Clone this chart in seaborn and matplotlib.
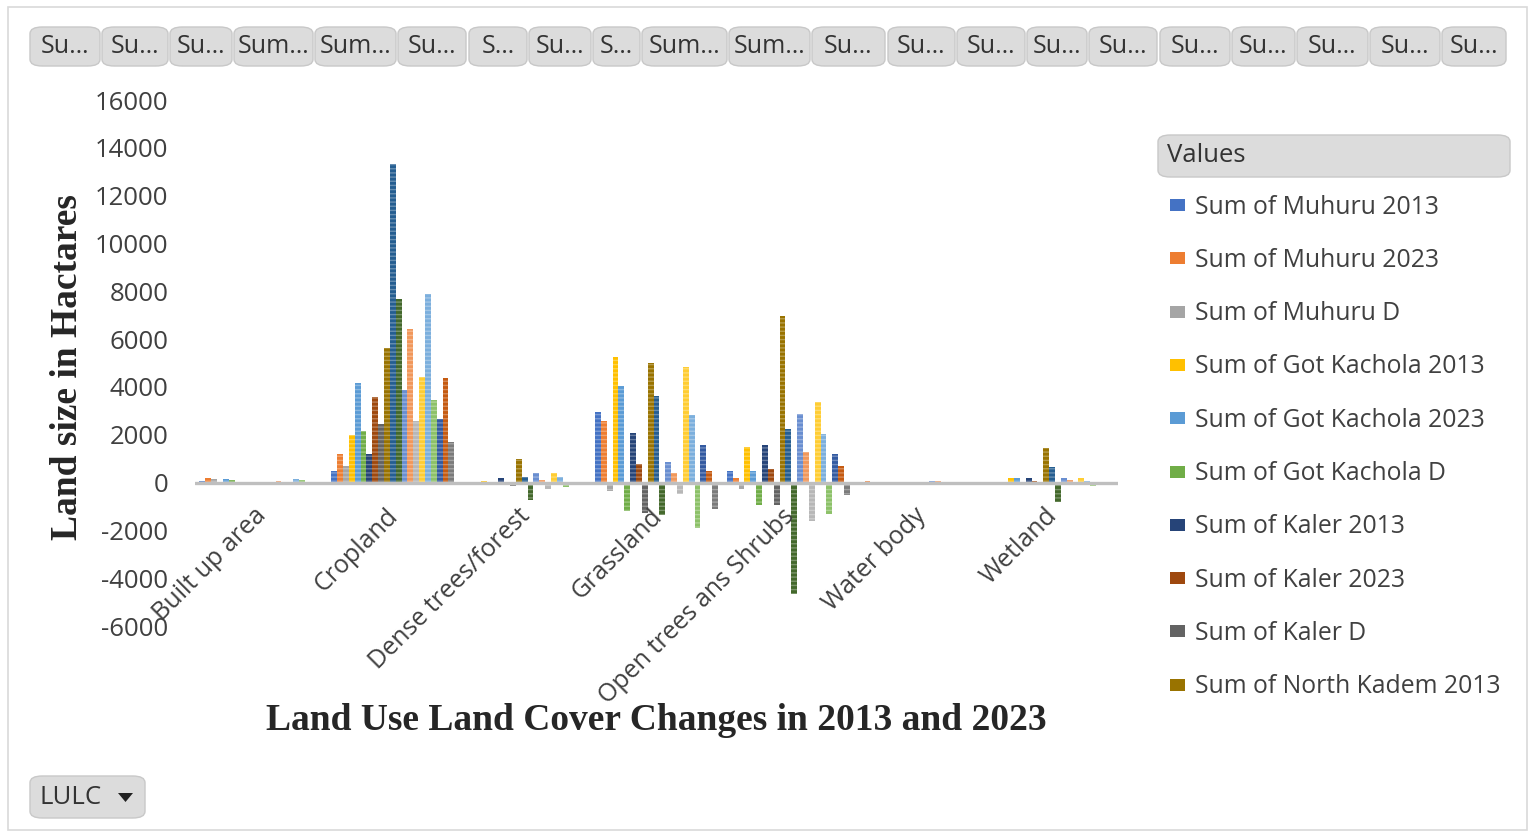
import numpy as np
import pandas as pd
import matplotlib
matplotlib.use("Agg")
import matplotlib.pyplot as plt
from matplotlib.patches import FancyBboxPatch, Rectangle, Polygon
from matplotlib.transforms import offset_copy
import seaborn as sns

# ---------------- data ----------------
categories = ["Built up area", "Cropland", "Dense trees/forest", "Grassland",
              "Open trees ans Shrubs", "Water body", "Wetland"]

muhuru_2013 = [60, 500, 20, 2950, 490, 40, 30]
muhuru_2023 = [200, 1200, 10, 2590, 210, 50, 40]
muhuru_d = [140, 700, -10, -360, -280, 10, 10]
got_kachola_2013 = [30, 2000, 60, 5250, 1480, 40, 170]
got_kachola_2023 = [150, 4160, 20, 4050, 500, 40, 200]
got_kachola_d = [120, 2160, -40, -1200, -950, 0, 30]
kaler_2013 = [20, 1200, 180, 2070, 1570, 30, 170]
kaler_2023 = [10, 3580, 30, 790, 580, 30, 60]
kaler_d = [-60, 2450, -150, -1290, -950, 0, -110]
north_kadem_2013 = [30, 5640, 980, 5020, 6950, 40, 1450]
north_kadem_2023 = [40, 13320, 230, 3630, 2250, 40, 650]
north_kadem_d = [10, 7680, -750, -1350, -4650, 0, -800]
kachieng_2013 = [40, 3880, 400, 880, 2870, 50, 200]
kachieng_2023 = [50, 6420, 110, 400, 1270, 50, 120]
kachieng_d = [10, 2560, -290, -480, -1600, 0, -80]
kanyasa_2013 = [30, 4430, 400, 4830, 3350, 40, 200]
kanyasa_2023 = [150, 7890, 230, 2840, 2050, 40, 60]
kanyasa_d = [120, 3460, -170, -1900, -1300, 0, -140]
macalder_2013 = [20, 2670, 20, 1570, 1200, 30, 30]
macalder_2023 = [20, 4360, 20, 470, 680, 30, 30]
macalder_d = [0, 1700, 0, -1100, -520, 0, 0]

series_names = [
    "Sum of Muhuru 2013", "Sum of Muhuru 2023", "Sum of Muhuru D",
    "Sum of Got Kachola 2013", "Sum of Got Kachola 2023", "Sum of Got Kachola D",
    "Sum of Kaler 2013", "Sum of Kaler 2023", "Sum of Kaler D",
    "Sum of North Kadem 2013", "Sum of North Kadem 2023", "Sum of North Kadem D",
    "Sum of Kachieng 2013", "Sum of Kachieng 2023", "Sum of Kachieng D",
    "Sum of Kanyasa 2013", "Sum of Kanyasa 2023", "Sum of Kanyasa D",
    "Sum of Macalder 2013", "Sum of Macalder 2023", "Sum of Macalder D",
]
series_values = [
    muhuru_2013, muhuru_2023, muhuru_d,
    got_kachola_2013, got_kachola_2023, got_kachola_d,
    kaler_2013, kaler_2023, kaler_d,
    north_kadem_2013, north_kadem_2023, north_kadem_d,
    kachieng_2013, kachieng_2023, kachieng_d,
    kanyasa_2013, kanyasa_2023, kanyasa_d,
    macalder_2013, macalder_2023, macalder_d,
]
button_labels = ["Su…", "Su…", "Su…", "Sum…", "Sum…", "Su…", "S…", "Su…", "S…",
                 "Sum…", "Sum…", "Su…", "Su…", "Su…", "Su…", "Su…", "Su…",
                 "Su…", "Su…", "Su…", "Su…"]
yticks = list(range(-6000, 16001, 2000))

# ---------------- style ----------------
colors = ["#4472C4", "#ED7D31", "#A5A5A5", "#FFC000", "#5B9BD5", "#70AD47",
          "#264478", "#9E480E", "#636363", "#997300", "#255E91", "#43682B",
          "#698ED0", "#F1975A", "#B7B7B7", "#FFCD33", "#7CAFDD", "#8CC168",
          "#335AA1", "#C55A11", "#7B7B7B"]

rows = []
for name, vals in zip(series_names, series_values):
    for cat, v in zip(categories, vals):
        rows.append({"LULC": cat, "Series": name, "Area": v})
df = pd.DataFrame(rows)

sns.set_theme(style="white")
plt.rcParams["font.family"] = ["Open Sans", "DejaVu Sans"]
plt.rcParams["hatch.linewidth"] = 1.0

W, H = 1534, 831
fig = plt.figure(figsize=(W / 100, H / 100), dpi=100)

def fx(px):
    return px / W

def fy(py):
    return 1 - py / H

# axes: x from 195 to 1118 px, y from 100 (16000) to 626 (-6000)
ax = fig.add_axes([fx(195), fy(626), fx(1118) - fx(195), fy(100) - fy(626)])
sns.barplot(data=df, x="LULC", y="Area", hue="Series", order=categories,
            hue_order=series_names, palette=colors, width=21 / 22.5, gap=0,
            dodge=True, legend=False, errorbar=None, saturation=1, ax=ax)
for p in ax.patches:
    p.set_hatch("----")
    p.set_edgecolor((1, 1, 1, 0.30))
    p.set_linewidth(0)

ax.set_xlim(-0.5, len(categories) - 0.5)
ax.set_ylim(-6000, 16000)
ax.set_yticks(yticks)
ax.set_yticklabels([str(t) for t in yticks], fontsize=18.5, color="#404040")
ax.tick_params(axis="y", length=0, pad=19)
ax.set_xticks([])
ax.set_xlabel("")
ax.set_ylabel("")
for s in ax.spines.values():
    s.set_visible(False)
ax.axhline(0, color="#BFBFBF", lw=2.4, zorder=5)

# category labels at the zero line, rotated 45
for i, cat in enumerate(categories):
    tr = offset_copy(ax.transData, fig=fig, x=-7, y=-21, units="dots")
    ax.text(i, 0, cat, rotation=45, ha="right", va="top", rotation_mode="anchor",
            fontsize=18, color="#404040", transform=tr, clip_on=False)

# axis titles
fig.text(fx(656.5), fy(721), "Land Use Land Cover Changes in 2013 and 2023",
         ha="center", va="center", fontsize=27, fontweight="bold",
         family="Liberation Serif", color="#262626")
fig.text(fx(68), fy(367), "Land size in Hactares", rotation=90,
         ha="center", va="center", fontsize=27, fontweight="bold",
         family="Liberation Serif", color="#262626")

# outer border
fig.patches.append(Rectangle((fx(8), fy(830)), fx(1527) - fx(8), fy(7) - fy(830),
                             transform=fig.transFigure, fill=False,
                             edgecolor="#D9D9D9", lw=1.2))

def button(x0, y0, x1, y1, text, fs=15, pad_left=None):
    fig.patches.append(FancyBboxPatch(
        (fx(x0), fy(y1)), fx(x1) - fx(x0), fy(y0) - fy(y1),
        boxstyle="round,pad=0,rounding_size=0.008", transform=fig.transFigure,
        facecolor="#DCDCDC", edgecolor="#C8C8C8", lw=1.0))
    if pad_left is None:
        fig.text(fx((x0 + x1) / 2), fy((y0 + y1) / 2), text, ha="center",
                 va="center", fontsize=fs, color="#333333")
    else:
        fig.text(fx(x0 + pad_left), fy((y0 + y1) / 2), text, ha="left",
                 va="center", fontsize=fs, color="#333333")

# top field buttons
btn_x = [(30, 100), (102, 168), (170, 232), (234, 313), (315, 396), (398, 466),
         (469, 527), (529, 591), (593, 640), (642, 727), (729, 810), (812, 885),
         (888, 955), (957, 1025), (1027, 1087), (1089, 1157), (1160, 1230),
         (1232, 1295), (1297, 1368), (1370, 1440), (1442, 1506)]
for (a, b), t in zip(btn_x, button_labels):
    button(a, 27, b, 66, t, fs=18)

# legend header
button(1158, 135, 1510, 177, "Values", fs=18.5, pad_left=9)

# legend entries (first 10 visible)
for k in range(10):
    cy = 205 + 53.3 * k
    fig.patches.append(Rectangle((fx(1170), fy(cy + 6)), fx(1185) - fx(1170),
                                 fy(cy - 6) - fy(cy + 6), transform=fig.transFigure,
                                 facecolor=colors[k], edgecolor="none"))
    fig.text(fx(1195), fy(cy + 2), series_names[k], ha="left", va="center",
             fontsize=17.8, color="#404040")

# LULC field button
button(30, 776, 145, 818, "LULC", fs=18.5, pad_left=9)
tri = Polygon([[fx(118), fy(793)], [fx(133), fy(793)], [fx(125.5), fy(802)]],
              closed=True, transform=fig.transFigure, facecolor="#222222",
              edgecolor="none")
fig.patches.append(tri)

fig.savefig("out.png", dpi=100, facecolor="white")
